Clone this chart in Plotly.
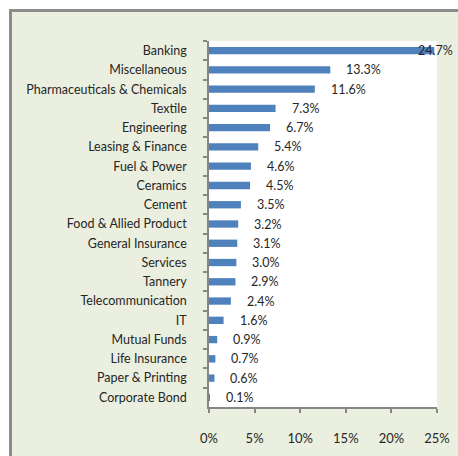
import plotly.graph_objects as go

# Sector-wise share of investment (%)
sectors = [
    "Banking", "Miscellaneous", "Pharmaceuticals & Chemicals", "Textile",
    "Engineering", "Leasing & Finance", "Fuel & Power", "Ceramics", "Cement",
    "Food & Allied Product", "General Insurance", "Services", "Tannery",
    "Telecommunication", "IT", "Mutual Funds", "Life Insurance",
    "Paper & Printing", "Corporate Bond",
]
shares = [24.7, 13.3, 11.6, 7.3, 6.7, 5.4, 4.6, 4.5, 3.5, 3.2, 3.1, 3.0, 2.9,
          2.4, 1.6, 0.9, 0.7, 0.6, 0.1]
x_ticks = [0, 5, 10, 15, 20, 25]
x_tick_labels = ["0%", "5%", "10%", "15%", "20%", "25%"]

W, H = 458, 456
ML, MR, MT, MB = 209, 21, 41, 49
PW, PH = W - ML - MR, H - MT - MB

FONT = "Lato"
FS = 12.5
TEXT = "#262626"
AXIS = "#868686"
BAR = "#4F81BD"
FRAME_BG = "#EBEFDF"


def px_x(px):
    return (px - ML) / PW


def px_y(py):
    return 1 - (py - MT) / PH


fig = go.Figure(
    go.Bar(
        x=shares,
        y=sectors,
        orientation="h",
        marker=dict(color=BAR, line=dict(width=0)),
        hoverinfo="x+y",
    )
)

# value labels beside each bar; the widest one is right-aligned so it stays inside the frame
annotations = []
top = max(shares)
for s, v in zip(sectors, shares):
    is_top = v == top
    annotations.append(dict(
        x=v, y=s, xref="x", yref="y",
        text=f"{v:.1f}%", showarrow=False,
        xanchor="right" if is_top else "left", yanchor="middle",
        xshift=19 if is_top else 16,
        borderpad=0, borderwidth=0,
        font=dict(family=FONT, size=FS, color=TEXT),
    ))

shapes = [
    # framed background panel
    dict(type="rect", xref="paper", yref="paper", layer="below",
         x0=px_x(10.5), x1=px_x(W + 20), y0=px_y(10.5), y1=px_y(H + 20),
         fillcolor=FRAME_BG, line=dict(color="#8C8C8C", width=3)),
    # white plotting area
    dict(type="rect", xref="paper", yref="paper", layer="below",
         x0=0, x1=1, y0=0, y1=1, fillcolor="white", line=dict(width=0)),
]

fig.update_layout(
    width=W, height=H,
    margin=dict(l=ML, r=MR, t=MT, b=MB, autoexpand=False),
    paper_bgcolor="white",
    plot_bgcolor="rgba(0,0,0,0)",
    showlegend=False,
    bargap=0.62,
    annotations=annotations,
    shapes=shapes,
    font=dict(family=FONT, size=FS, color=TEXT),
    xaxis=dict(
        range=[0, 25],
        tickvals=x_ticks, ticktext=x_tick_labels,
        showgrid=False, zeroline=False,
        showline=True, linecolor=AXIS, linewidth=1.5,
        ticks="outside", ticklen=4, tickcolor=AXIS, tickwidth=1.5,
        ticklabelstandoff=15,
        tickfont=dict(family=FONT, size=13, color=TEXT),
        automargin=False,
        fixedrange=True,
    ),
    yaxis=dict(
        categoryorder="array", categoryarray=sectors,
        autorange="reversed",
        showgrid=False, zeroline=False,
        showline=True, linecolor=AXIS, linewidth=1.5,
        ticks="outside", ticklen=4, tickcolor=AXIS, tickwidth=1.5,
        tickson="boundaries",
        ticklabelstandoff=18,
        tickfont=dict(family=FONT, size=FS, color=TEXT),
        automargin=False,
        fixedrange=True,
    ),
)

fig.write_html("out.html")
